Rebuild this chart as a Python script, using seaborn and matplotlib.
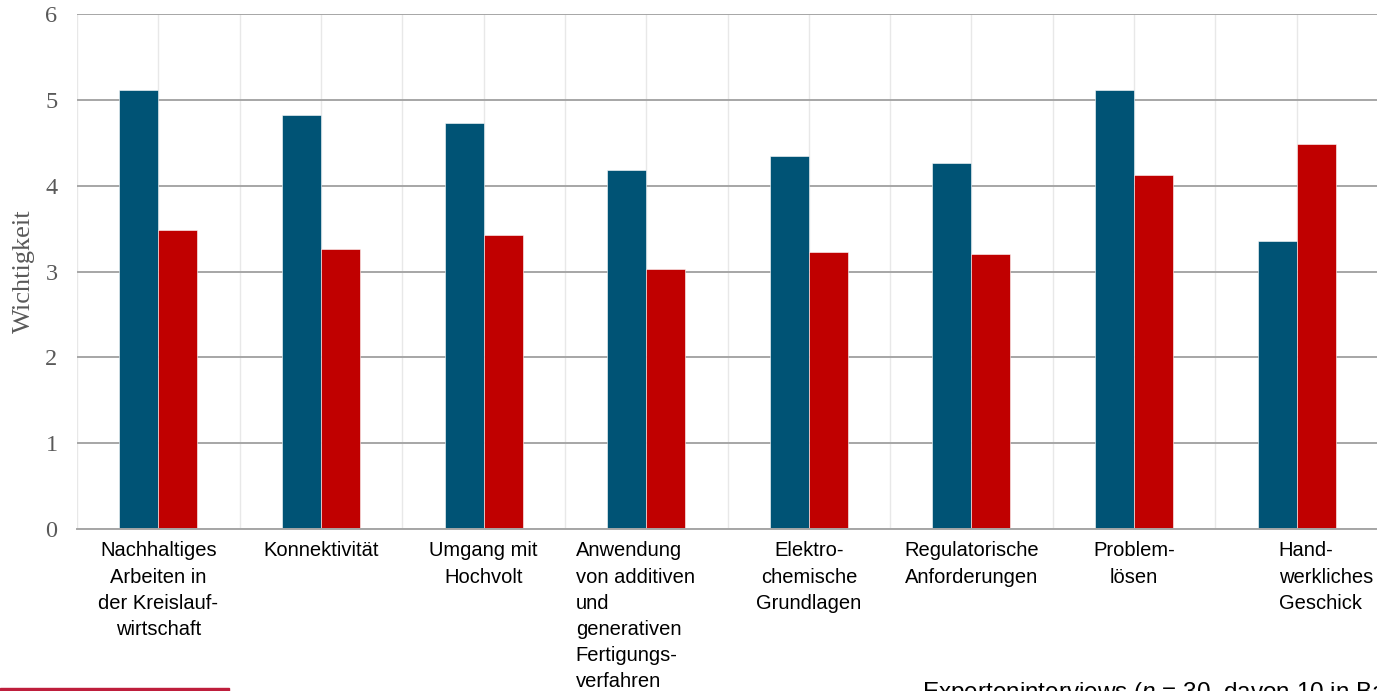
import numpy as np
import pandas as pd
import matplotlib
matplotlib.use("Agg")
import matplotlib.pyplot as plt
import matplotlib.transforms as mtrans
from matplotlib.patches import Rectangle
import seaborn as sns

categories = [
    "Nachhaltiges\nArbeiten in\nder Kreislauf-\nwirtschaft",
    "Konnektivität",
    "Umgang mit\nHochvolt",
    "Anwendung\nvon additiven\nund\ngenerativen\nFertigungs-\nverfahren",
    "Elektro-\nchemische\nGrundlagen",
    "Regulatorische\nAnforderungen",
    "Problem-\nlösen",
    "Hand-\nwerkliches\nGeschick",
]
series_names = ["Serie A", "Serie B"]
values_a = [5.12, 4.82, 4.73, 4.18, 4.35, 4.26, 5.12, 3.36]
values_b = [3.48, 3.26, 3.43, 3.03, 3.23, 3.20, 4.12, 4.49]
y_ticks = [0, 1, 2, 3, 4, 5, 6]
y_label = "Wichtigkeit"
footer = "Experteninterviews ($\\mathit{n}$ = 30, davon 10 in Baden-Württemberg)"

df = pd.DataFrame({
    "cat": categories * 2,
    "serie": [series_names[0]] * len(categories) + [series_names[1]] * len(categories),
    "wert": values_a + values_b,
})

sns.set_theme(style="white")
plt.rcParams["font.family"] = ["Liberation Sans", "DejaVu Sans"]
plt.rcParams["mathtext.fontset"] = "custom"
plt.rcParams["mathtext.it"] = "Liberation Sans:italic"
plt.rcParams["mathtext.rm"] = "Liberation Sans"

W, H = 1377, 691
fig = plt.figure(figsize=(W / 100, H / 100), dpi=100)
ax = fig.add_axes([77 / W, (H - 529) / H, (1378 - 77) / W, (529 - 14) / H])

sns.barplot(data=df, x="cat", y="wert", hue="serie",
            palette=["#005375", "#C00000"], saturation=1, width=0.48, gap=0,
            edgecolor="white", linewidth=0.4, legend=False, ax=ax)

ax.set_xlim(-0.5, len(categories) - 0.5)
ax.set_ylim(0, 6)
ax.set_yticks(y_ticks)
ax.set_yticklabels([str(t) for t in y_ticks], family="Liberation Serif",
                   fontsize=17.5, color="#595959")
ax.set_xticks(range(len(categories)))
ax.set_xticklabels(categories, fontsize=14.5, color="#000000", linespacing=1.47)
ax.set_xticks(np.arange(-0.5, len(categories), 0.5), minor=True)
ax.tick_params(axis="y", length=0, pad=14)
ax.tick_params(axis="x", which="both", length=0, pad=9)

labels = ax.get_xticklabels()
labels[3].set_multialignment("left")
labels[3].set_transform(labels[3].get_transform() + mtrans.ScaledTranslation(-11 / 100, 0, fig.dpi_scale_trans))
labels[7].set_multialignment("left")
labels[7].set_horizontalalignment("left")
labels[7].set_transform(labels[7].get_transform() + mtrans.ScaledTranslation(-18 / 100, 0, fig.dpi_scale_trans))

ax.set_xlabel("")
ax.set_ylabel(y_label, family="Liberation Serif", fontsize=19, color="#595959")
ax.yaxis.set_label_coords(-(77 - 24) / (1378 - 77), 0.5)
ax.yaxis.label.set_verticalalignment("center")

ax.set_axisbelow(True)
ax.grid(axis="y", color="#A6A6A6", linewidth=1.4)
ax.grid(axis="x", which="both", color="#E8E8E8", linewidth=1.0)
for s in ["top", "right", "left"]:
    ax.spines[s].set_visible(False)
ax.spines["bottom"].set_color("#A6A6A6")
ax.spines["bottom"].set_linewidth(1.4)

fig.patches.append(Rectangle((0, 0), 229 / W, 3.5 / H, transform=fig.transFigure,
                             color="#BE1E3C", zorder=5))
fig.text(922 / W, -8 / H, footer, fontsize=17.5, color="#000000", va="baseline", ha="left")

fig.savefig("out.png", dpi=100)
